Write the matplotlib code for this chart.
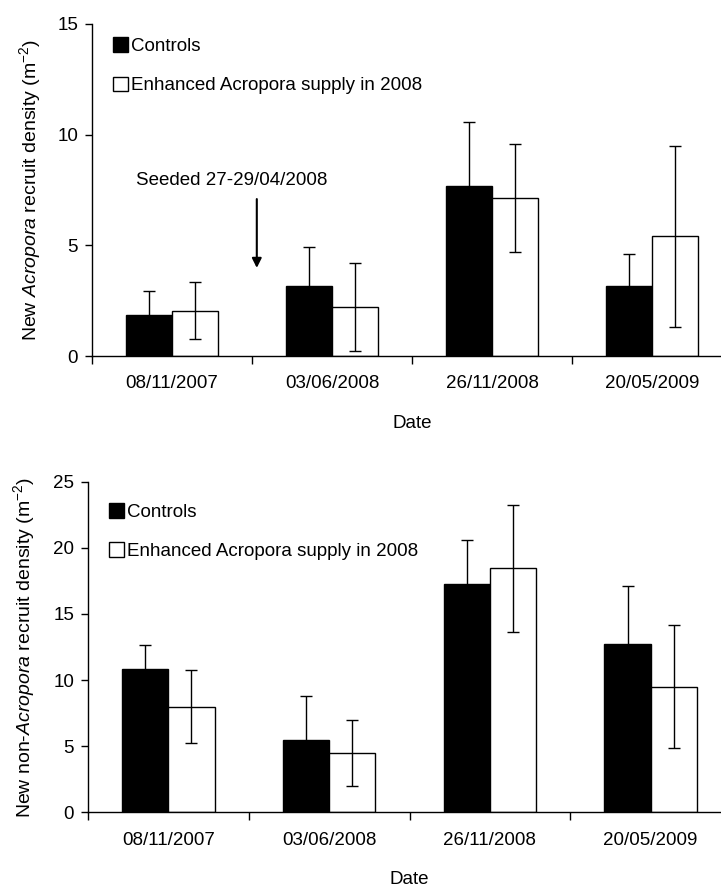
import matplotlib
matplotlib.use("Agg")
import matplotlib.pyplot as plt
from matplotlib.patches import Patch
import numpy as np

plt.rcParams['font.family'] = ['Liberation Sans', 'DejaVu Sans']
plt.rcParams['mathtext.fontset'] = 'custom'
plt.rcParams['mathtext.rm'] = 'Liberation Sans'
plt.rcParams['mathtext.it'] = 'Liberation Sans:italic'

dates = ["08/11/2007", "03/06/2008", "26/11/2008", "20/05/2009"]

# New Acropora recruits (m-2)
acro_ctrl = [1.85, 3.17, 7.66, 3.17]
acro_ctrl_err = [1.07, 1.74, 2.91, 1.46]
acro_enh = [2.05, 2.20, 7.15, 5.40]
acro_enh_err = [1.29, 1.98, 2.43, 4.07]

# New non-Acropora recruits (m-2)
non_ctrl = [10.86, 5.44, 17.26, 12.75]
non_ctrl_err = [1.82, 3.35, 3.30, 4.36]
non_enh = [7.99, 4.51, 18.45, 9.50]
non_enh_err = [2.78, 2.50, 4.78, 4.66]

labels = ["Controls", "Enhanced Acropora supply in 2008"]

fig = plt.figure(figsize=(7.21, 8.88), dpi=100)
ax1 = fig.add_axes([92/721, 1-356/888, 640/721, 332/888])
ax2 = fig.add_axes([88/721, 1-812.3/888, 643/721, 330.6/888])

x = np.arange(1, len(dates)+1)
w = 0.2875
fs = 13.5

def draw(ax, ctrl, ctrl_err, enh, enh_err, ymax, ystep, ylabel, ylab_x, leg_y):
    ax.bar(x - w/2, ctrl, w, color='black', edgecolor='black', linewidth=1, zorder=2)
    ax.bar(x + w/2, enh, w, color='white', edgecolor='black', linewidth=1, zorder=2)
    ax.errorbar(x - w/2, ctrl, yerr=ctrl_err, fmt='none', ecolor='black',
                elinewidth=1, capsize=4, capthick=1, zorder=3)
    ax.errorbar(x + w/2, enh, yerr=enh_err, fmt='none', ecolor='black',
                elinewidth=1, capsize=4, capthick=1, zorder=3)
    ax.set_xlim(0.5, 4.5)
    ax.set_ylim(0, ymax)
    ax.set_yticks(np.arange(0, ymax+1, ystep))
    ax.set_xticks(np.arange(0.5, 4.6, 1))
    ax.set_xticklabels([])
    ax.set_xticks(x, minor=True)
    ax.set_xticklabels(dates, minor=True)
    ax.tick_params(axis='x', which='major', length=6, width=1, direction='out')
    ax.tick_params(axis='x', which='minor', length=0, pad=14, labelsize=fs)
    ax.tick_params(axis='y', length=5, width=1, pad=5, labelsize=fs)
    for s in ['top', 'right']:
        ax.spines[s].set_visible(False)
    ax.spines['left'].set_linewidth(1)
    ax.spines['bottom'].set_linewidth(1)
    ax.set_xlabel("Date", fontsize=fs)
    ax.xaxis.set_label_coords(0.5, -0.178)
    ax.set_ylabel(ylabel, fontsize=14)
    ax.yaxis.set_label_coords(ylab_x, 0.5)
    handles = [Patch(facecolor='black', edgecolor='black'),
               Patch(facecolor='white', edgecolor='black')]
    ax.legend(handles, labels, loc='upper left', bbox_to_anchor=(0.033, leg_y),
              frameon=False, fontsize=fs, handlelength=0.8, handleheight=0.8,
              handletextpad=0.15, labelspacing=1.15, borderpad=0, borderaxespad=0)

draw(ax1, acro_ctrl, acro_ctrl_err, acro_enh, acro_enh_err, 15, 5,
     r'New $\it{Acropora}$ recruit density (m$^{-2}$)', -0.076, 0.96)
draw(ax2, non_ctrl, non_ctrl_err, non_enh, non_enh_err, 25, 5,
     r'New non-$\it{Acropora}$ recruit density (m$^{-2}$)', -0.079, 0.935)

ax1.text(0.775, 7.95, "Seeded 27-29/04/2008", fontsize=fs, ha='left', va='center')
ax1.annotate('', xy=(1.53, 3.98), xytext=(1.53, 7.09),
             arrowprops=dict(arrowstyle='-|>', lw=1.5, color='black',
                             mutation_scale=14, shrinkA=0, shrinkB=0))

fig.savefig("out.png", dpi=100)
